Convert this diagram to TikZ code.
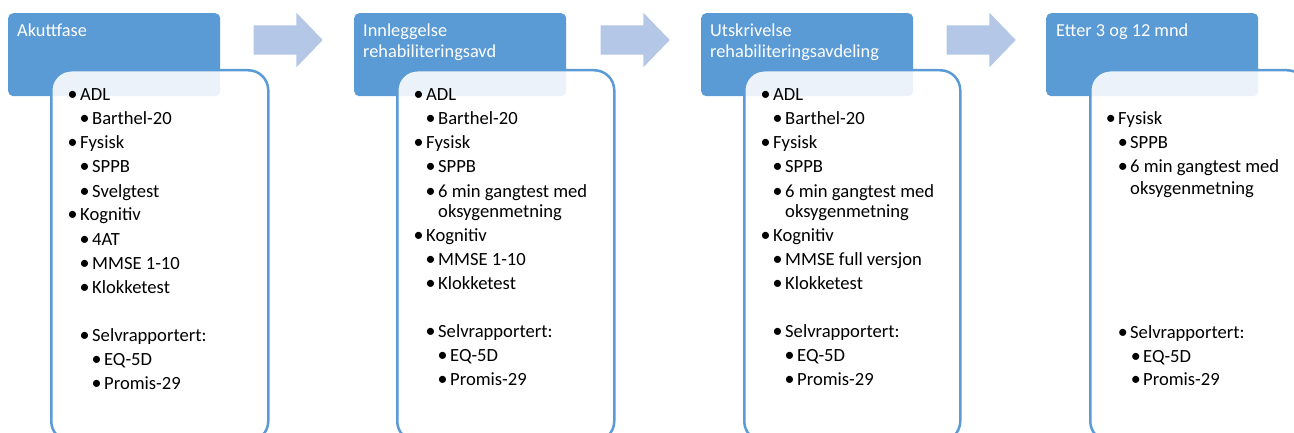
\documentclass[tikz,border=0pt]{standalone}
\usepackage{fontspec}
\setmainfont{Carlito}
\usetikzlibrary{shapes.arrows}
\definecolor{hblue}{HTML}{5B9BD5}
\definecolor{ablue}{HTML}{B4C7E7}
\newcommand{\hfont}{\fontsize{18.3}{21}\selectfont}
\newcommand{\bfont}{\fontsize{18.6}{20}\selectfont}
\newcommand{\bulletmark}{{\fontsize{20}{20}\selectfont\textbullet}}
\begin{document}
\begin{tikzpicture}[x=1pt,y=-1pt,
  boxhead/.style={anchor=north west,fill=hblue,rounded corners=5pt,minimum width=212pt,minimum height=83pt,inner sep=0},
  headtext/.style={anchor=base west,text=white,inner sep=0,font=\hfont},
  boxbody/.style={anchor=north west,draw=hblue,line width=2.5pt,fill=white,fill opacity=0.88,rounded corners=20pt,minimum width=217pt,minimum height=371pt,inner sep=0},
  itm/.style={anchor=base west,inner sep=0,font=\bfont,execute at begin node={\llap{\bulletmark\hspace{2.5pt}}}},
  cont/.style={anchor=base west,inner sep=0,font=\bfont},
  flowarrow/.style={single arrow,anchor=tip,fill=ablue,inner sep=0,text height=29pt,text depth=0pt,minimum height=69pt,single arrow head extend=12.5pt,single arrow tip angle=92}]
\clip (0,0) rectangle (1294,433);

\node(H1)[boxhead] at (8,13) {};
\node(H2)[boxhead] at (354,13) {};
\node(H3)[boxhead] at (701,13) {};
\node(H4)[boxhead] at (1046,13) {};

\node(A1)[flowarrow] at (323,40) {};
\node(A2)[flowarrow] at (670,40) {};
\node(A3)[flowarrow] at (1016,40) {};

\node(B1)[boxbody] at (50,69) {};
\node(B2)[boxbody] at (396,69) {};
\node(B3)[boxbody,minimum width=216pt] at (743,69) {};
\node(B4)[boxbody] at (1089,69) {};

\node(T1)[headtext] at (17,37) {Akuttfase};
\node(T2a)[headtext] at (363,37) {Innleggelse};
\node(T2b)[headtext] at (363,58) {rehabiliteringsavd};
\node(T3a)[headtext] at (710,37) {Utskrivelse};
\node(T3b)[headtext] at (710,58) {rehabiliteringsavdeling};
\node(T4)[headtext] at (1056,37) {Etter 3 og 12 mnd};

\node(a1)[itm] at (80,101) {ADL};
\node(a2)[itm] at (92,125) {Barthel-20};
\node(a3)[itm] at (80,149) {Fysisk};
\node(a4)[itm] at (92,173) {SPPB};
\node(a5)[itm] at (92,197) {Svelgtest};
\node(a6)[itm] at (80,221) {Kognitiv};
\node(a7)[itm] at (92,245) {4AT};
\node(a8)[itm] at (92,269) {MMSE 1-10};
\node(a9)[itm] at (92,293) {Klokketest};
\node(a10)[itm] at (92,341) {Selvrapportert:};
\node(a11)[itm] at (104,365) {EQ-5D};
\node(a12)[itm] at (104,389) {Promis-29};

\node(b1)[itm] at (426,101) {ADL};
\node(b2)[itm] at (438,125) {Barthel-20};
\node(b3)[itm] at (426,149) {Fysisk};
\node(b4)[itm] at (438,173) {SPPB};
\node(b5)[itm] at (438,197) {6 min gangtest med};
\node(b6)[cont] at (438,218) {oksygenmetning};
\node(b7)[itm] at (426,241) {Kognitiv};
\node(b8)[itm] at (438,265) {MMSE 1-10};
\node(b9)[itm] at (438,289) {Klokketest};
\node(b10)[itm] at (438,337) {Selvrapportert:};
\node(b11)[itm] at (450,361) {EQ-5D};
\node(b12)[itm] at (450,385) {Promis-29};

\node(c1)[itm] at (773,101) {ADL};
\node(c2)[itm] at (785,125) {Barthel-20};
\node(c3)[itm] at (773,149) {Fysisk};
\node(c4)[itm] at (785,173) {SPPB};
\node(c5)[itm] at (785,197) {6 min gangtest med};
\node(c6)[cont] at (785,218) {oksygenmetning};
\node(c7)[itm] at (773,241) {Kognitiv};
\node(c8)[itm] at (785,265) {MMSE full versjon};
\node(c9)[itm] at (785,289) {Klokketest};
\node(c10)[itm] at (785,337) {Selvrapportert:};
\node(c11)[itm] at (797,361) {EQ-5D};
\node(c12)[itm] at (797,385) {Promis-29};

\node(d1)[itm] at (1118,125) {Fysisk};
\node(d2)[itm] at (1130,149) {SPPB};
\node(d3)[itm] at (1130,173) {6 min gangtest med};
\node(d4)[cont] at (1130,194) {oksygenmetning};
\node(d5)[itm] at (1130,338) {Selvrapportert:};
\node(d6)[itm] at (1143,362) {EQ-5D};
\node(d7)[itm] at (1143,385) {Promis-29};

\end{tikzpicture}
\end{document}
